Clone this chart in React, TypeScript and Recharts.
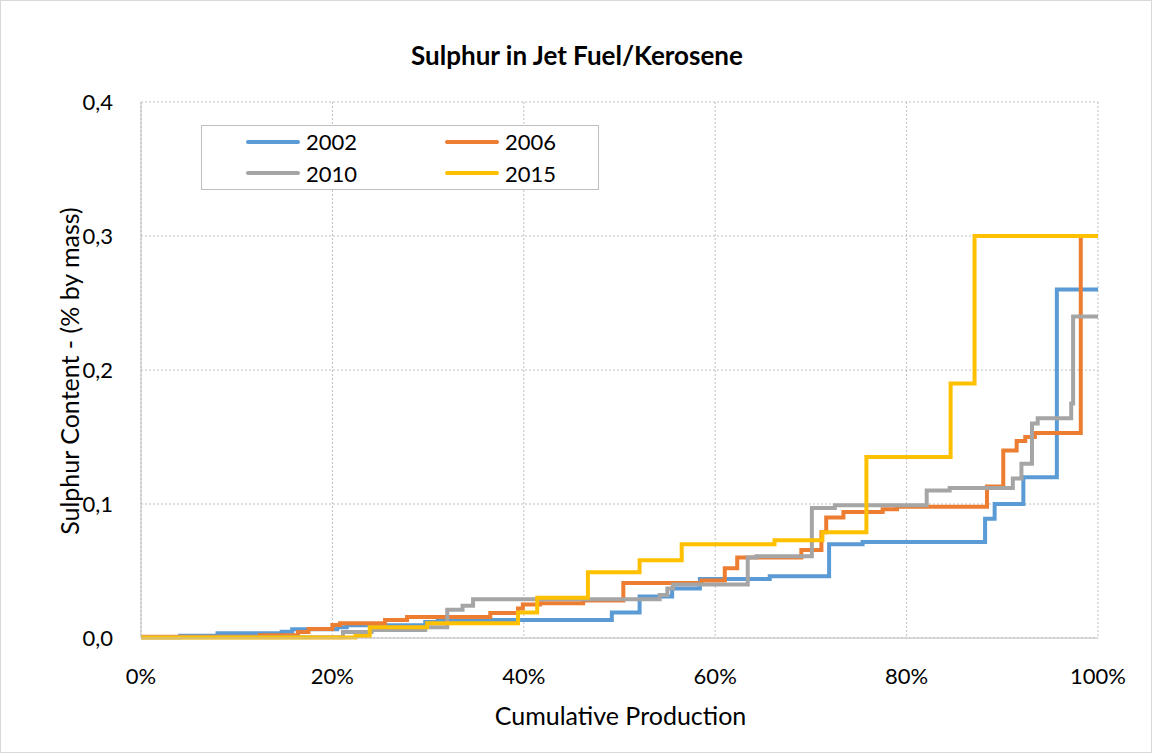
import React from "react";
import {
  CartesianGrid,
  Line,
  LineChart,
  XAxis,
  YAxis,
} from "recharts";

const FONT = "Lato, 'Open Sans', sans-serif";

const X_TICKS = [0, 20, 40, 60, 80, 100];
const Y_TICKS = [0, 0.1, 0.2, 0.3, 0.4];

// cumulative production (%) where each step starts, and sulphur (% by mass)
const x2002 = [0, 4.1, 8, 14.7, 15.8, 20.5, 21.5, 29.7, 31, 49.2, 52.1, 55.5, 58.4, 65.7, 71.9, 75.4, 88.2, 89.2, 92.2, 95.7, 100];
const y2002 = [0.0005, 0.0017, 0.0035, 0.0047, 0.0065, 0.008, 0.0095, 0.012, 0.0134, 0.019, 0.031, 0.037, 0.044, 0.046, 0.07, 0.0716, 0.089, 0.1, 0.12, 0.26, 0.26];

const x2006 = [0, 12.4, 16.4, 17.5, 20, 20.8, 25.5, 27.8, 36.5, 39.4, 39.9, 41.7, 46.2, 50.4, 58.6, 61, 62.3, 69, 71.1, 71.6, 73.4, 77.5, 79, 88.4, 90.1, 91.5, 92.4, 93.4, 98.2, 100];
const y2006 = [0.001, 0.002, 0.0045, 0.0067, 0.0097, 0.011, 0.0134, 0.0157, 0.0187, 0.022, 0.025, 0.026, 0.028, 0.041, 0.043, 0.052, 0.06, 0.0657, 0.079, 0.09, 0.094, 0.096, 0.098, 0.113, 0.14, 0.147, 0.15, 0.153, 0.3, 0.3];

const x2010 = [0, 21.1, 24.1, 29.7, 32, 33.6, 34.7, 54.2, 55, 55.6, 63.4, 64.3, 70.1, 72.5, 82.1, 84.5, 91.1, 92, 93.1, 93.7, 97.2, 97.4, 100];
const y2010 = [0.0005, 0.0045, 0.006, 0.008, 0.021, 0.024, 0.029, 0.032, 0.037, 0.04, 0.06, 0.061, 0.097, 0.099, 0.11, 0.112, 0.119, 0.13, 0.16, 0.164, 0.175, 0.24, 0.24];

const x2015 = [0, 22.4, 23.9, 29.9, 39.4, 41.4, 46.7, 52.1, 56.5, 66.2, 71.2, 75.8, 84.6, 87.1, 100];
const y2015 = [0.0003, 0.0015, 0.008, 0.011, 0.019, 0.03, 0.049, 0.058, 0.07, 0.073, 0.079, 0.135, 0.19, 0.3, 0.3];

const SERIES = [
  { name: "2002", xs: x2002, ys: y2002, color: "#5B9BD5" },
  { name: "2006", xs: x2006, ys: y2006, color: "#ED7D31" },
  { name: "2010", xs: x2010, ys: y2010, color: "#A5A5A5" },
  { name: "2015", xs: x2015, ys: y2015, color: "#FFC000" },
];

const toPoints = (xs: number[], ys: number[]) =>
  xs.map((x, i) => ({ x, y: ys[i] }));

function LegendBox() {
  return (
    <div
      style={{
        position: "absolute",
        left: 200,
        top: 124,
        width: 398,
        height: 65,
        boxSizing: "border-box",
        border: "1px solid #BFBFBF",
        background: "#fff",
        display: "grid",
        gridTemplateColumns: "199px 199px",
        alignItems: "center",
        fontSize: 22,
        color: "#000",
      }}
    >
      {SERIES.map((s) => (
        <div key={s.name} style={{ display: "flex", alignItems: "center", paddingLeft: 44 }}>
          <span
            style={{
              display: "inline-block",
              width: 54,
              height: 4,
              borderRadius: 2,
              background: s.color,
              marginRight: 6,
            }}
          />
          {s.name}
        </div>
      ))}
    </div>
  );
}

export default function App() {
  return (
    <div
      style={{
        position: "absolute",
        left: 0,
        top: 0,
        width: 1152,
        height: 753,
        boxSizing: "border-box",
        border: "1px solid #D9D9D9",
        background: "#fff",
        fontFamily: FONT,
      }}
    >
      <div
        style={{
          position: "absolute",
          top: 38,
          left: 0,
          width: 1152,
          textAlign: "center",
          fontWeight: "bold",
          fontSize: 26,
        }}
      >
        Sulphur in Jet Fuel/Kerosene
      </div>
      <div
        style={{
          position: "absolute",
          left: 68,
          top: 370,
          transform: "translate(-50%, -50%) rotate(-90deg)",
          whiteSpace: "nowrap",
          fontSize: 25,
        }}
      >
        Sulphur Content - (% by mass)
      </div>
      <div
        style={{
          position: "absolute",
          top: 699,
          left: 141,
          width: 957,
          textAlign: "center",
          fontSize: 25,
        }}
      >
        Cumulative Production
      </div>
      <LineChart
        width={1152}
        height={753}
        margin={{ top: 102, right: 54, bottom: 85, left: 81 }}
        style={{ position: "absolute", left: -1, top: -1 }}
      >
        <CartesianGrid stroke="#BFBFBF" strokeDasharray="2 2" />
        <XAxis
          type="number"
          dataKey="x"
          domain={[0, 100]}
          ticks={X_TICKS}
          tickFormatter={(v) => `${v}%`}
          height={30}
          stroke="#BFBFBF"
          tickLine={false}
          tickMargin={24}
          tick={{ fill: "#000", fontSize: 22, fontFamily: FONT }}
          allowDuplicatedCategory={false}
        />
        <YAxis
          type="number"
          dataKey="y"
          domain={[0, 0.4]}
          ticks={Y_TICKS}
          tickFormatter={(v) => v.toFixed(1).replace(".", ",")}
          width={60}
          stroke="#BFBFBF"
          tickLine={false}
          tickMargin={22}
          tick={{ fill: "#000", fontSize: 22, fontFamily: FONT }}
        />
        {SERIES.map((s) => (
          <Line
            key={s.name}
            name={s.name}
            data={toPoints(s.xs, s.ys)}
            dataKey="y"
            type="stepAfter"
            stroke={s.color}
            strokeWidth={4}
            dot={false}
            activeDot={false}
            isAnimationActive={false}
          />
        ))}
      </LineChart>
      <LegendBox />
    </div>
  );
}
